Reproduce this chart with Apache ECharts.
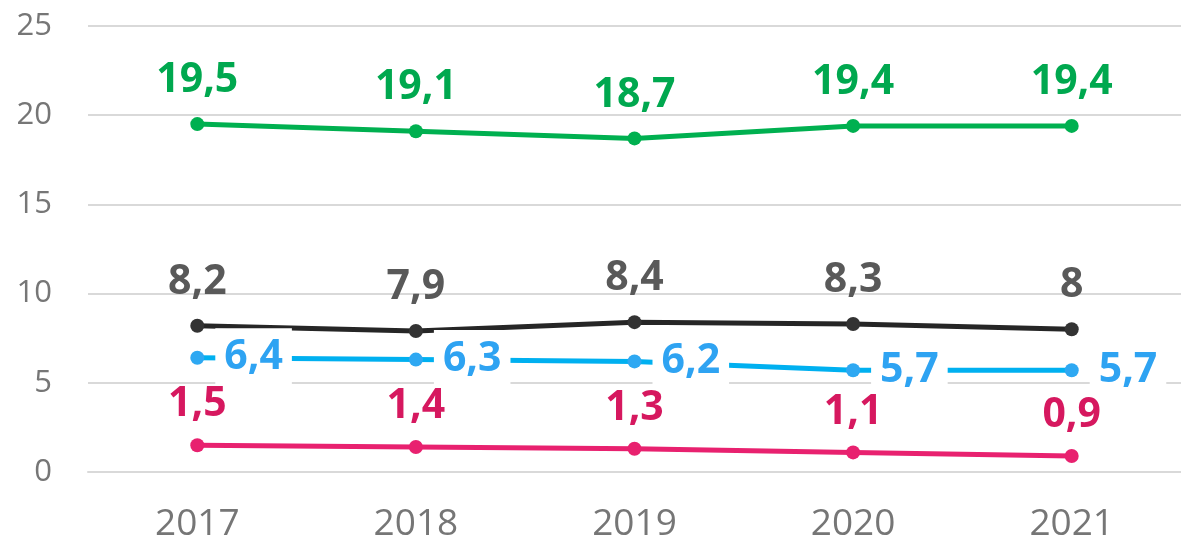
<!DOCTYPE html>
<html>
<head>
<meta charset="utf-8">
<style>
  html, body { margin: 0; padding: 0; background: #ffffff; }
  #chart { width: 1181px; height: 544px; }
</style>
<script src="https://cdn.jsdelivr.net/npm/echarts@6/dist/echarts.min.js"></script>
</head>
<body>
<div id="chart"></div>
<script>
// Years on the category axis
const years = ['2017', '2018', '2019', '2020', '2021'];

// Series values
const greenValues = [19.5, 19.1, 18.7, 19.4, 19.4];
const darkValues  = [8.2, 7.9, 8.4, 8.3, 8];
const blueValues  = [6.4, 6.3, 6.2, 5.7, 5.7];
const pinkValues  = [1.5, 1.4, 1.3, 1.1, 0.9];

// Value axis ticks
const yMin = 0;
const yMax = 25;
const yStep = 5;

const FONT = '"Open Sans", Lato, sans-serif';

// Decimal comma formatting
const fmt = (p) => String(p.value).replace('.', ',');

function lineSeries(name, data, lineColor, dotColor, labelColor, label, z) {
  return {
    name: name,
    type: 'line',
    z: z,
    data: data,
    symbol: 'circle',
    symbolSize: 14,
    lineStyle: { color: lineColor, width: 5 },
    itemStyle: { color: dotColor },
    label: Object.assign({
      show: true,
      formatter: fmt,
      color: labelColor,
      fontFamily: FONT,
      fontWeight: 'bold',
      fontSize: 41
    }, label),
    emphasis: { disabled: true },
    animation: false
  };
}

const chart = echarts.init(document.getElementById('chart'), null, { renderer: 'canvas' });

chart.setOption({
  backgroundColor: '#ffffff',
  animation: false,
  grid: { left: 88, top: 26, width: 1095, height: 446 },
  xAxis: {
    type: 'category',
    data: years,
    boundaryGap: true,
    axisLine: { show: true, lineStyle: { color: '#D9D9D9', width: 2 } },
    axisTick: { show: false },
    axisLabel: { color: '#767676', fontFamily: FONT, fontSize: 37, margin: 34 }
  },
  yAxis: {
    type: 'value',
    min: yMin,
    max: yMax,
    interval: yStep,
    axisLine: { show: false },
    axisTick: { show: false },
    splitLine: { lineStyle: { color: '#D9D9D9', width: 2 } },
    axisLabel: { color: '#767676', fontFamily: FONT, fontSize: 31, margin: 36 }
  },
  series: [
    lineSeries('green', greenValues, '#00B050', '#00B050', '#00A84F',
      { position: 'top', distance: 16 }, 2),
    lineSeries('dark', darkValues, '#262626', '#333333', '#595959',
      { position: 'top', distance: 16 }, 3),
    lineSeries('blue', blueValues, '#00B0F0', '#2EA8F2', '#2EA3F2',
      { position: 'right', distance: 11, backgroundColor: '#ffffff', padding: [9, 9, 9, 9] }, 4),
    lineSeries('pink', pinkValues, '#E8216F', '#E8216F', '#D6185F',
      { position: 'top', distance: 13 }, 5)
  ]
});
</script>
</body>
</html>
